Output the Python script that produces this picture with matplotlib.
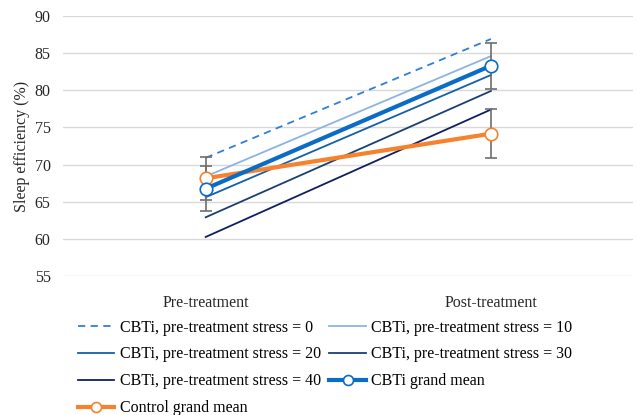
import matplotlib.pyplot as plt

plt.rcParams['font.family'] = ['Liberation Serif', 'DejaVu Serif']

# data
timepoints = ['Pre-treatment', 'Post-treatment']
stress_levels = [0, 10, 20, 30, 40]
stress_pre = [70.9, 68.4, 65.6, 62.9, 60.25]
stress_post = [86.9, 84.6, 82.05, 79.9, 77.4]
cbti_mean = [66.75, 83.3]
cbti_err = [3.05, 3.1]
control_mean = [68.15, 74.15]
control_err = [2.9, 3.3]

stress_colors = ['#2F7FD6', '#8DB3E2', '#1460A8', '#1B3F73', '#0F1F60']
stress_styles = ['--', '-', '-', '-', '-']

fig = plt.figure(figsize=(6.37, 4.15), dpi=100)
ax = fig.add_axes([0.099, 0.335, 0.8955, 0.6265])

x = [0, 1]
handles = []
for lvl, pre, post, c, ls in zip(stress_levels, stress_pre, stress_post,
                                 stress_colors, stress_styles):
    h, = ax.plot(x, [pre, post], color=c, ls=ls, lw=1.3,
                 dashes=(4, 3) if ls == '--' else (None, None),
                 label=f'CBTi, pre-treatment stress = {lvl}')
    handles.append(h)

ax.errorbar(x, control_mean, yerr=control_err, fmt='none', ecolor='#6E6E6E',
            elinewidth=1.2, capsize=4, capthick=1.2, zorder=3)
ax.errorbar(x, cbti_mean, yerr=cbti_err, fmt='none', ecolor='#6E6E6E',
            elinewidth=1.2, capsize=4, capthick=1.2, zorder=3)

h_cbti, = ax.plot(x, cbti_mean, color='#0A6CC4', lw=3, marker='o', ms=9,
                  mfc='white', mec='#0A6CC4', mew=1.2, zorder=5,
                  label='CBTi grand mean')
h_ctrl, = ax.plot(x, control_mean, color='#F7822E', lw=3, marker='o', ms=9,
                  mfc='white', mec='#F7822E', mew=1.2, zorder=4,
                  label='Control grand mean')
handles += [h_cbti, h_ctrl]

ax.set_xlim(-0.5, 1.5)
ax.set_ylim(55, 90)
ax.set_yticks(range(55, 91, 5))
ax.set_xticks(x)
ax.set_xticklabels(timepoints)
ax.grid(axis='y', color='#D9D9D9', lw=1)
ax.set_axisbelow(True)
for s in ax.spines.values():
    s.set_visible(False)
ax.tick_params(length=0, labelsize=11.5, colors='#262626')
ax.tick_params(axis='x', pad=14)
ax.tick_params(axis='y', pad=9)
ax.set_ylabel('Sleep efficiency (%)', fontsize=11.5, color='#262626', labelpad=3)

# legend reads row by row, matplotlib fills column by column
order = [0, 2, 4, 6, 1, 3, 5]
fig.legend([handles[i] for i in order], [handles[i].get_label() for i in order],
           ncol=2, loc='upper left', bbox_to_anchor=(0.122, 0.23),
           frameon=False, fontsize=11.5, handlelength=2.3, handletextpad=0.35,
           columnspacing=0.5, labelspacing=0.68, borderpad=0, borderaxespad=0,
           markerscale=0.8)

fig.savefig('out.png', dpi=100)
